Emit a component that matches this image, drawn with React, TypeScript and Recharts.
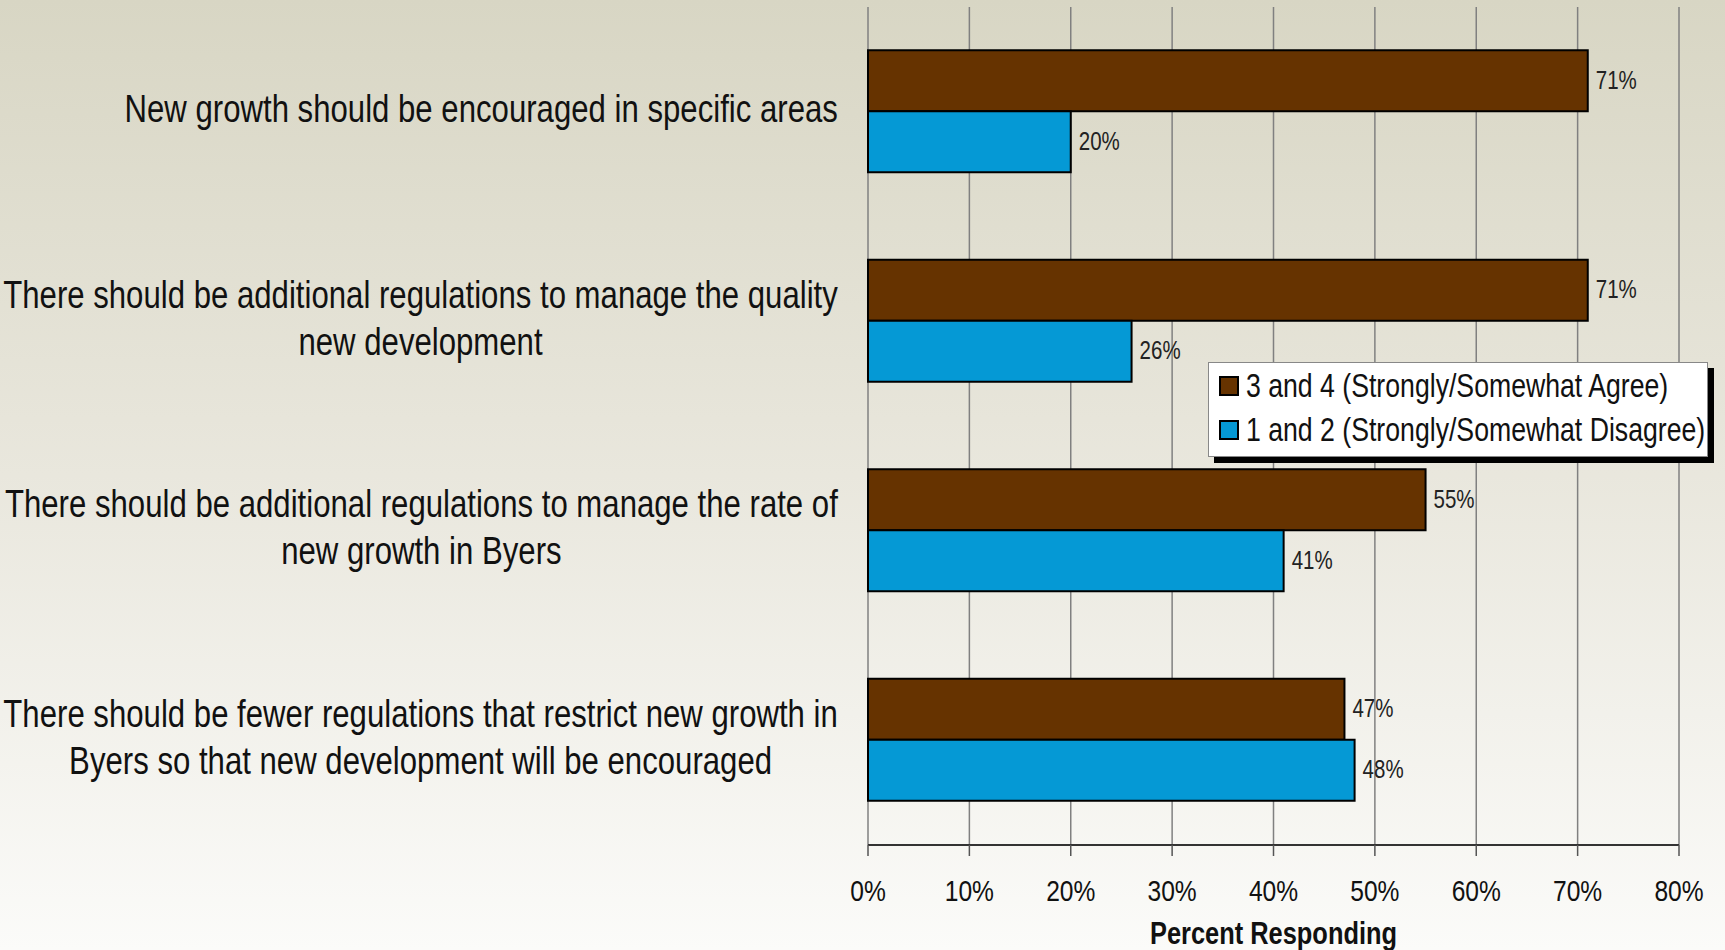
import React from 'react';
import {
  BarChart, Bar, XAxis, YAxis, CartesianGrid, LabelList, Legend, ReferenceLine,
} from 'recharts';

const categories = [
  'New growth should be encouraged in specific areas',
  'There should be additional regulations to manage the quality\nnew development',
  'There should be additional regulations to manage the rate of\nnew growth in Byers',
  'There should be fewer regulations that restrict new growth in\nByers so that new development will be encouraged',
];
const agreeValues = [71, 71, 55, 47];
const disagreeValues = [20, 26, 41, 48];
const xTicks = [0, 10, 20, 30, 40, 50, 60, 70, 80];
const seriesNames = ['3 and 4 (Strongly/Somewhat Agree)', '1 and 2 (Strongly/Somewhat Disagree)'];
const axisTitle = 'Percent Responding';

const data = categories.map((name, i) => ({
  name,
  agree: agreeValues[i],
  disagree: disagreeValues[i],
}));

const FONT = '"Liberation Sans", Arial, sans-serif';
const NARROW = 0.82;
const BROWN = '#663300';
const BLUE = '#0599d5';

let ctx: CanvasRenderingContext2D | null = null;
const measure = (text: string, size: number) => {
  if (!ctx) {
    const c = document.createElement('canvas');
    ctx = c.getContext('2d');
  }
  if (!ctx) return text.length * size * 0.5 * NARROW;
  ctx.font = `${size}px ${FONT}`;
  return ctx.measureText(text).width * NARROW;
};

const NarrowText = ({ x, y, size, anchor = 'middle', bold = false, fill = '#111', children }: any) => (
  <text
    transform={`translate(${x},${y}) scale(${NARROW},1)`}
    x={0}
    y={0}
    textAnchor={anchor}
    dominantBaseline="central"
    fontFamily={FONT}
    fontSize={size}
    fontWeight={bold ? 'bold' : 'normal'}
    fill={fill}
  >
    {children}
  </text>
);

const CAT_SIZE = 38;
const LINE_H = 47;

const CatTick = (props: any) => {
  const { x, y, payload } = props;
  const lines = String(payload.value).split('\n');
  const maxW = Math.max(...lines.map((l) => measure(l, CAT_SIZE)));
  const right = x - 22;
  const cx = right - maxW / 2;
  const startY = y - 3 - ((lines.length - 1) * LINE_H) / 2;
  return (
    <g>
      {lines.map((l, i) => (
        <NarrowText key={i} x={cx} y={startY + i * LINE_H} size={CAT_SIZE}>
          {l}
        </NarrowText>
      ))}
    </g>
  );
};

const XTick = (props: any) => {
  const { x, y, payload } = props;
  return (
    <NarrowText x={x} y={y + 35} size={30}>
      {`${payload.value}%`}
    </NarrowText>
  );
};

const AxisTitle = (props: any) => {
  const vb = props.viewBox || {};
  return (
    <NarrowText x={vb.x + vb.width / 2} y={vb.y + vb.height + 3} size={31} bold>
      {axisTitle}
    </NarrowText>
  );
};

const ValueLabel = (props: any) => {
  const { x, y, width, height, value } = props;
  return (
    <NarrowText x={x + width + 8} y={y + height / 2 - 1} size={25} anchor="start" fill="#222">
      {`${value}%`}
    </NarrowText>
  );
};

const LegendBox = () => (
  <div
    style={{
      boxSizing: 'border-box',
      width: 500,
      height: 95,
      background: '#fff',
      border: '1px solid #888',
      boxShadow: '6px 6px 0 #000',
      padding: '1px 0 0 10px',
      fontFamily: FONT,
      fontSize: 32.5,
      color: '#111',
      lineHeight: '44px',
      whiteSpace: 'nowrap',
    }}
  >
    {seriesNames.map((n, i) => (
      <div key={n} style={{ display: 'flex', alignItems: 'center', height: 44 }}>
        <span
          style={{
            display: 'inline-block',
            boxSizing: 'border-box',
            width: 20,
            height: 20,
            background: i === 0 ? BROWN : BLUE,
            border: '2px solid #000',
            marginRight: 7,
            flex: 'none',
          }}
        />
        <span style={{ display: 'inline-block', transform: `scaleX(${NARROW})`, transformOrigin: 'left center' }}>
          {n}
        </span>
      </div>
    ))}
  </div>
);

export default function App() {
  return (
    <div
      style={{
        position: 'absolute',
        left: 0,
        top: 0,
        width: 1725,
        height: 950,
        background: 'linear-gradient(to bottom, #d8d6c4 0%, #e9e7dd 50%, #fbfbf9 100%)',
      }}
    >
      <BarChart
        width={1725}
        height={950}
        data={data}
        layout="vertical"
        margin={{ top: 7, right: 46, left: 8, bottom: 20 }}
        barCategoryGap="20.7%"
        barGap={0}
      >
        <CartesianGrid
          horizontal={false}
          vertical
          stroke="#808080"
          strokeWidth={1.5}
          yAxisId="cat"
        />
        <XAxis
          type="number"
          domain={[0, 80]}
          ticks={xTicks}
          interval={0}
          height={85}
          tickSize={11}
          tickMargin={0}
          axisLine={{ stroke: '#333', strokeWidth: 2 }}
          tickLine={{ stroke: '#555', strokeWidth: 1.5 }}
          tick={<XTick />}
          label={<AxisTitle />}
        />
        <YAxis
          yAxisId="grid"
          type="number"
          domain={[0, 4]}
          ticks={[0, 1, 2, 3, 4]}
          width={0}
          tick={false}
          tickSize={12}
          axisLine={{ stroke: '#333', strokeWidth: 2 }}
          tickLine={{ stroke: '#555', strokeWidth: 1.5 }}
        />
        <YAxis
          yAxisId="cat"
          type="category"
          dataKey="name"
          width={860}
          axisLine={false}
          tickLine={false}
          tick={<CatTick />}
          interval={0}
        />
        <ReferenceLine yAxisId="grid" y={4} stroke="#777" strokeWidth={1.5} />
        <Legend
          content={<LegendBox />}
          layout="vertical"
          align="center"
          verticalAlign="middle"
          wrapperStyle={{ position: 'absolute', left: 1208, top: 362, width: 500, height: 95 }}
        />
        <Bar
          yAxisId="cat"
          dataKey="agree"
          name={seriesNames[0]}
          fill={BROWN}
          stroke="#000"
          strokeWidth={2}
          isAnimationActive={false}
        >
          <LabelList dataKey="agree" content={<ValueLabel />} />
        </Bar>
        <Bar
          yAxisId="cat"
          dataKey="disagree"
          name={seriesNames[1]}
          fill={BLUE}
          stroke="#000"
          strokeWidth={2}
          isAnimationActive={false}
        >
          <LabelList dataKey="disagree" content={<ValueLabel />} />
        </Bar>
      </BarChart>
    </div>
  );
}
